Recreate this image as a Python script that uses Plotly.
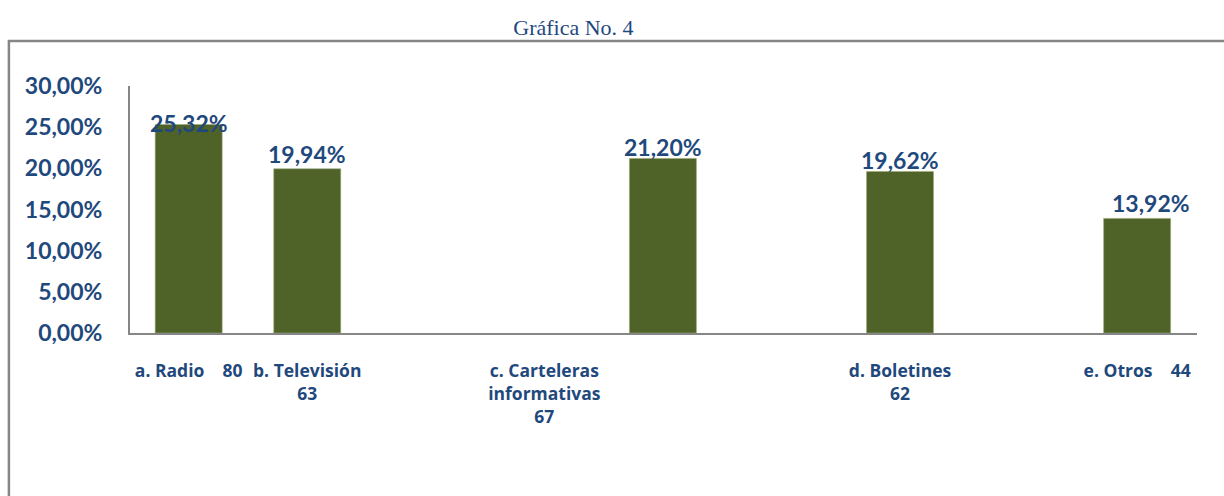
import plotly.graph_objects as go

# ---- data ----
categories = ["a. Radio", "b. Televisión", "c. Carteleras informativas", "d. Boletines", "e. Otros"]
counts = [80, 63, 67, 62, 44]
percentages = [25.32, 19.94, 21.20, 19.62, 13.92]
tick_labels = ["a. Radio    80", "b. Televisión<br>63", "c. Carteleras<br>informativas<br>67",
               "d. Boletines<br>62", "e. Otros    44"]
y_ticks = [0, 5, 10, 15, 20, 25, 30]
y_tick_text = ["0,00%", "5,00%", "10,00%", "15,00%", "20,00%", "25,00%", "30,00%"]

# ---- layout helpers (positions, not data) ----
bar_slots = [0, 1, 4, 6, 8]
label_slots = [0, 1, 3, 6, 8]
label_shift_y = [2, 15, 11, 11, 15]
label_shift_x = [0, 0, 0, 0, 14]

BLUE = "#1F497D"
GREEN = "#4F6228"
GRAY = "#868686"
FONT = "Lato"

fig = go.Figure()
fig.add_trace(go.Bar(
    x=bar_slots, y=percentages, width=0.565,
    marker=dict(color=GREEN, line=dict(color="#9bab7a", width=0.6)),
    hovertext=categories, showlegend=False,
))

for xs, v, dy, dx in zip(bar_slots, percentages, label_shift_y, label_shift_x):
    fig.add_annotation(
        x=xs, y=v, text=f"{v:.2f}%".replace(".", ","), showarrow=False,
        yshift=dy, xshift=dx, yanchor="middle",
        font=dict(family=FONT, size=23, color=BLUE, weight="bold"),
    )

# outer frame
fig.add_shape(type="rect", xref="paper", yref="paper",
              x0=-0.1135, x1=1.05, y0=-1.0, y1=1.182,
              line=dict(color=GRAY, width=2.5), layer="below")

fig.update_layout(
    width=1224, height=496,
    margin=dict(l=130, r=27, t=86, b=163),
    paper_bgcolor="white", plot_bgcolor="white",
    title=dict(text="Gráfica No. 4", x=0.4685, xanchor="center", y=0.944, yanchor="middle",
               font=dict(family="Liberation Serif", size=22, color=BLUE)),
    xaxis=dict(range=[-0.495, 8.505], tickmode="array", tickvals=label_slots, ticktext=tick_labels,
               showline=True, linecolor=GRAY, linewidth=2, showgrid=False, zeroline=False,
               ticks="", ticklabelstandoff=21,
               tickfont=dict(family="Open Sans", size=17.5, color=BLUE, weight="bold")),
    yaxis=dict(range=[0, 30], tickmode="array", tickvals=y_ticks, ticktext=y_tick_text,
               showline=True, linecolor=GRAY, linewidth=2, showgrid=False, zeroline=False,
               ticks="", ticklabelstandoff=21,
               tickfont=dict(family=FONT, size=23, color=BLUE, weight="bold")),
    bargap=0.4,
)

fig.write_html("out.html", config={"displayModeBar": False},
               post_script="document.body.style.margin='0';document.body.style.overflow='hidden';")
